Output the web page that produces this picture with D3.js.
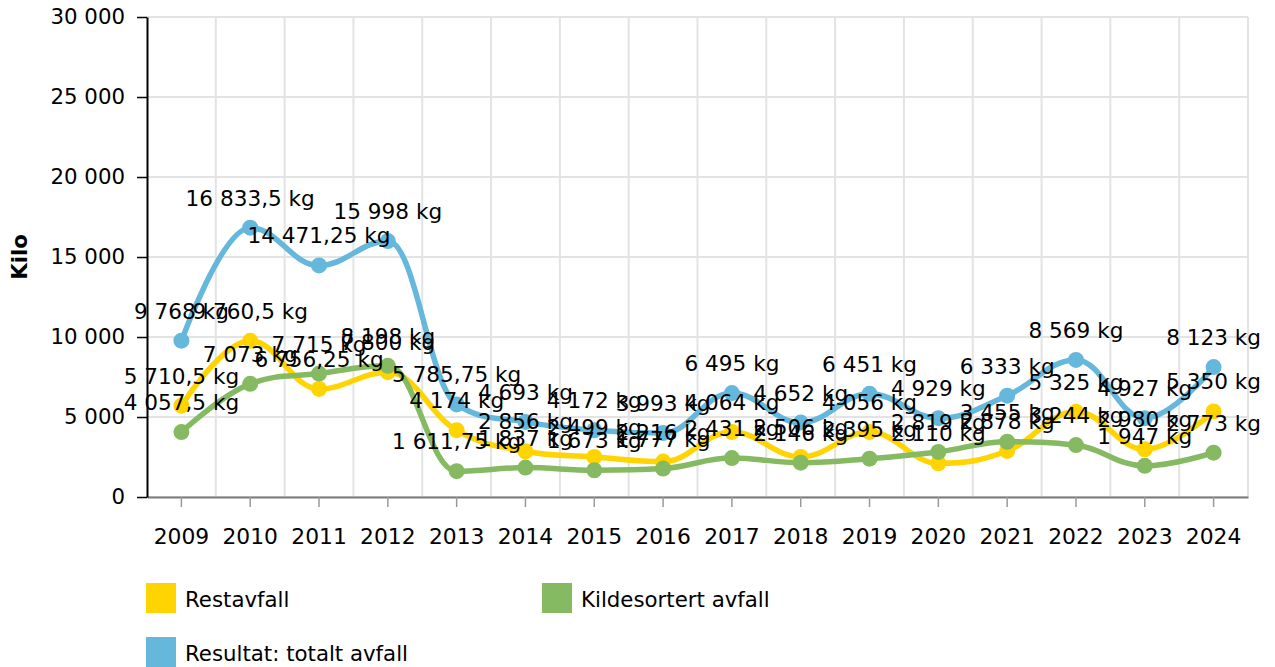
<!DOCTYPE html>
<meta charset='utf-8'>
<html>
<head>
    <title>Avfall</title>
    <script src='https://d3js.org/d3.v7.min.js'></script>
    <style>
        html, body { margin: 0; padding: 0; background: white; }
        svg { display: block; font-family: 'DejaVu Sans', Verdana, sans-serif; }
    </style>
</head>
<body>
<script>
    // data
    const years = ['2009', '2010', '2011', '2012', '2013', '2014', '2015', '2016',
        '2017', '2018', '2019', '2020', '2021', '2022', '2023', '2024'];
    const restavfall = [5710.5, 9760.5, 6756.25, 7800, 4174, 2856, 2499, 2216,
        4064, 2506, 4056, 2110, 2878, 5325, 2980, 5350];
    const kildesortert = [4057.5, 7073, 7715, 8198, 1611.75, 1837, 1673, 1777,
        2431, 2146, 2395, 2819, 3455, 3244, 1947, 2773];
    const totalt = [9768, 16833.5, 14471.25, 15998, 5785.75, 4693, 4172, 3993,
        6495, 4652, 6451, 4929, 6333, 8569, 4927, 8123];
    const yTicks = [0, 5000, 10000, 15000, 20000, 25000, 30000];

    const seriesNames = ['Restavfall', 'Kildesortert avfall', 'Resultat: totalt avfall'];
    const seriesColours = ['#ffd400', '#85ba62', '#66b7dc'];
    const seriesValues = [restavfall, kildesortert, totalt];

    const width = 1275;
    const height = 667;
    const plotLeft = 147, plotRight = 1248, plotTop = 17, plotBottom = 497;
    const fontSize = '21.3px';

    const nb = d3.formatLocale({ decimal: ',', thousands: ' ', grouping: [3], currency: ['', ''] });
    const fmt = nb.format(',');

    // spline like the one in the original tool: control points at 0.4 of the
    // gap, kept between the neighbouring y values so there are no false peaks
    function splineCurve(context) {
        let pts = [];
        return {
            areaStart: function () {},
            areaEnd: function () {},
            lineStart: function () { pts = []; },
            point: function (px, py) { pts.push([+px, +py]); },
            lineEnd: function () {
                const n = pts.length;
                if (!n) return;
                const ctrl = pts.map(function (p, i) {
                    if (i === 0 || i === n - 1) return { l: p, r: p };
                    const [px, py] = p, [lx, ly] = pts[i - 1], [nx, ny] = pts[i + 1];
                    const lcx = (1.5 * px + lx) / 2.5, rcx = (1.5 * px + nx) / 2.5;
                    let lcy = (1.5 * py + ly) / 2.5, rcy = (1.5 * py + ny) / 2.5;
                    const corr = ((rcy - lcy) * (rcx - px)) / (rcx - lcx) + py - rcy;
                    lcy += corr; rcy += corr;
                    if (lcy > ly && lcy > py) { lcy = Math.max(ly, py); rcy = 2 * py - lcy; }
                    else if (lcy < ly && lcy < py) { lcy = Math.min(ly, py); rcy = 2 * py - lcy; }
                    if (rcy > ny && rcy > py) { rcy = Math.max(ny, py); lcy = 2 * py - rcy; }
                    else if (rcy < ny && rcy < py) { rcy = Math.min(ny, py); lcy = 2 * py - rcy; }
                    return { l: [lcx, lcy], r: [rcx, rcy] };
                });
                context.moveTo(pts[0][0], pts[0][1]);
                for (let i = 1; i < n; i++) {
                    const a = ctrl[i - 1].r, b = ctrl[i].l;
                    context.bezierCurveTo(a[0], a[1], b[0], b[1], pts[i][0], pts[i][1]);
                }
            }
        };
    }

    const svg = d3.select('body')
        .append('svg')
        .attr('width', width)
        .attr('height', height);

    const x = d3.scaleBand().domain(years).range([plotLeft, plotRight]).padding(0);
    const y = d3.scaleLinear().domain([0, 30000]).range([plotBottom, plotTop]);
    const cx = d => x(d) + x.bandwidth() / 2;

    // grid
    svg.append('g')
        .selectAll('line')
        .data(yTicks)
        .enter()
        .append('line')
        .attr('x1', plotLeft).attr('x2', plotRight)
        .attr('y1', d => y(d)).attr('y2', d => y(d))
        .style('stroke', '#e3e3e3').style('stroke-width', 2);

    svg.append('g')
        .selectAll('line')
        .data(years.slice(1).concat(['end']))
        .enter()
        .append('line')
        .attr('x1', d => d === 'end' ? plotRight : x(d))
        .attr('x2', d => d === 'end' ? plotRight : x(d))
        .attr('y1', plotTop).attr('y2', plotBottom)
        .style('stroke', '#e3e3e3').style('stroke-width', 2);

    // x axis
    const xAxis = svg.append('g')
        .attr('transform', 'translate(0,' + plotBottom + ')')
        .call(d3.axisBottom(x).tickSize(10).tickPadding(22).tickSizeOuter(0));
    xAxis.select('.domain').style('stroke', '#7a7a7a').style('stroke-width', 2);
    xAxis.selectAll('.tick line').style('stroke', '#9a9a9a').style('stroke-width', 1.5);
    xAxis.selectAll('text')
        .style('font-size', '21.8px')
        .style('font-family', "'DejaVu Sans', Verdana, sans-serif")
        .attr('fill', '#000');

    // y axis
    const yAxis = svg.append('g')
        .attr('transform', 'translate(' + plotLeft + ',0)')
        .call(d3.axisLeft(y).tickValues(yTicks).tickSize(10).tickPadding(12)
            .tickSizeOuter(0).tickFormat(d => fmt(d)));
    yAxis.select('.domain').style('stroke', '#000').style('stroke-width', 2);
    yAxis.selectAll('.tick line').style('stroke', '#000').style('stroke-width', 1.5);
    yAxis.selectAll('text')
        .style('font-size', fontSize)
        .style('font-family', "'DejaVu Sans', Verdana, sans-serif")
        .attr('fill', '#000');

    svg.append('text')
        .attr('transform', 'translate(27,' + ((plotTop + plotBottom) / 2) + ') rotate(-90)')
        .attr('text-anchor', 'middle')
        .style('font-size', fontSize)
        .style('font-weight', 'bold')
        .text('Kilo');

    // series
    const line = d3.line()
        .x((d, i) => cx(years[i]))
        .y(d => y(d))
        .curve(splineCurve);

    seriesValues.forEach(function (vals, s) {
        const g = svg.append('g');
        g.append('path')
            .attr('d', line(vals))
            .style('fill', 'none')
            .style('stroke', seriesColours[s])
            .style('stroke-width', 5.5)
            .style('stroke-linejoin', 'round');
        g.selectAll('circle')
            .data(vals)
            .enter()
            .append('circle')
            .attr('cx', (d, i) => cx(years[i]))
            .attr('cy', d => y(d))
            .attr('r', 8)
            .style('fill', seriesColours[s]);
    });

    // data labels
    seriesValues.forEach(function (vals) {
        svg.append('g')
            .selectAll('text')
            .data(vals)
            .enter()
            .append('text')
            .attr('x', (d, i) => cx(years[i]))
            .attr('y', d => y(d) - 22)
            .attr('text-anchor', 'middle')
            .style('font-size', '21.6px')
            .text(d => fmt(d) + ' kg');
    });

    // legend
    const legendPos = [[146, 583], [542, 583], [146, 637]];
    const legend = svg.selectAll('g.legendEntry')
        .data(seriesNames)
        .enter()
        .append('g').attr('class', 'legendEntry')
        .attr('transform', (d, i) => 'translate(' + legendPos[i][0] + ',' + legendPos[i][1] + ')');
    legend.append('rect')
        .attr('width', 30).attr('height', 30)
        .style('fill', (d, i) => seriesColours[i]);
    legend.append('text')
        .attr('x', 39).attr('y', 24)
        .style('font-size', fontSize)
        .text(d => d);
</script>
</body>
</html>
